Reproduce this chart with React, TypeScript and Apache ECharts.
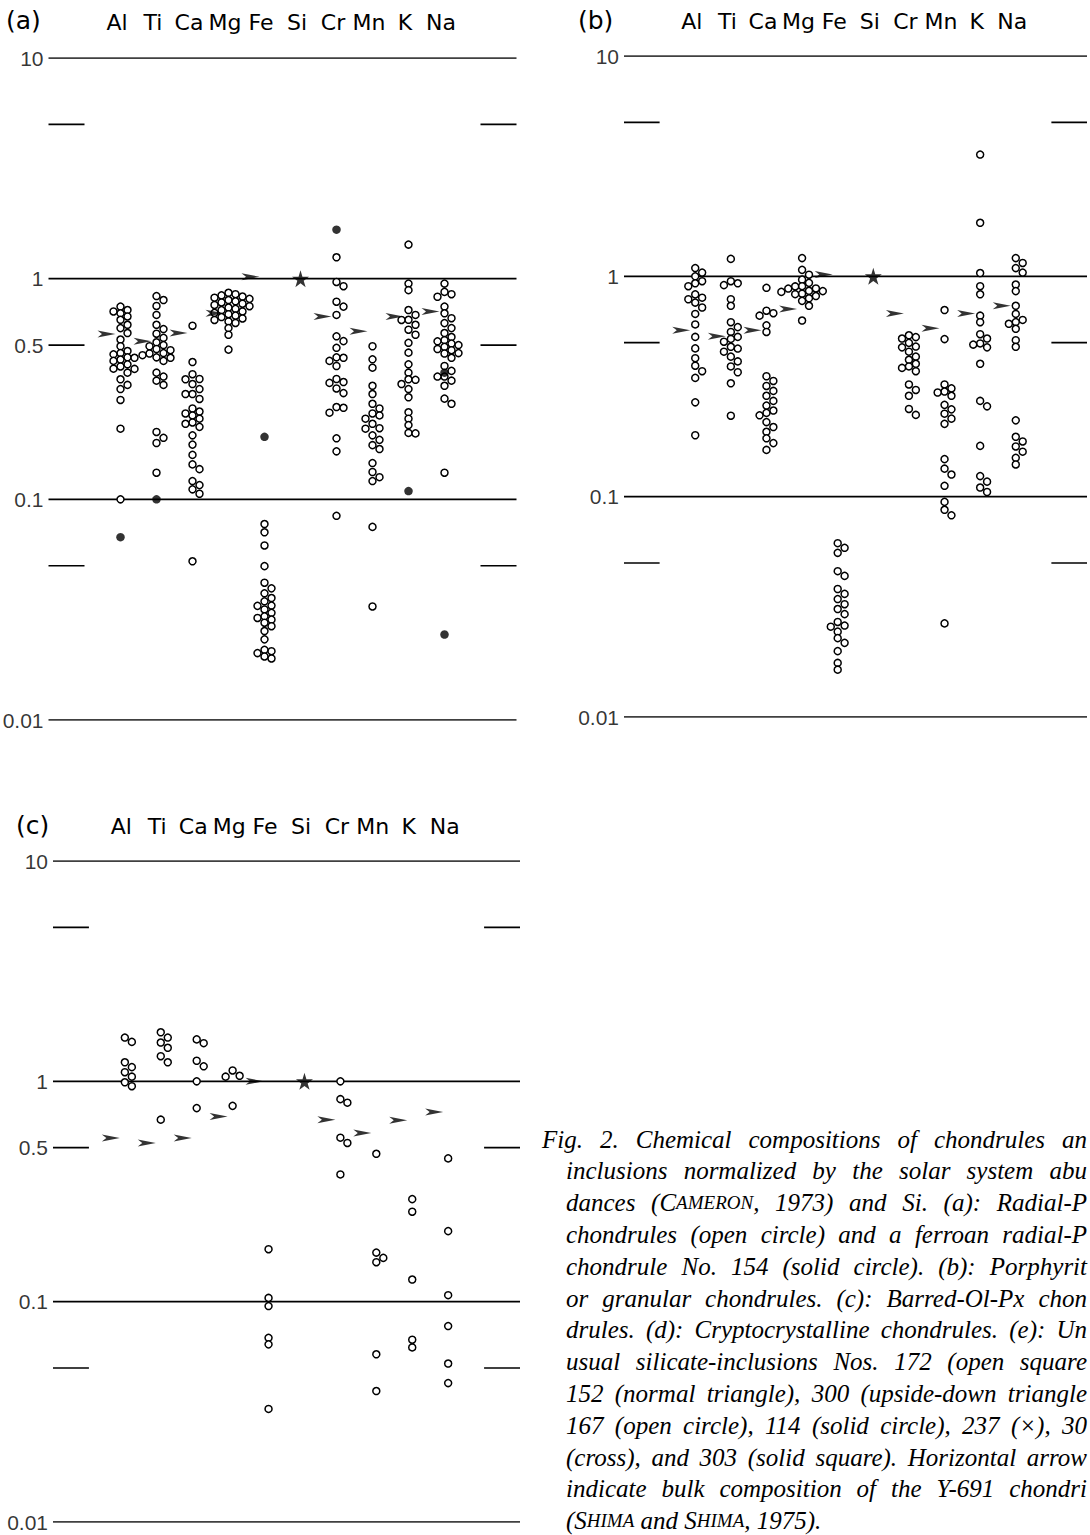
import React, { useEffect, useRef } from 'react';
import * as echarts from 'echarts';

// ---------- data ----------
const ELEMENTS = ['Al', 'Ti', 'Ca', 'Mg', 'Fe', 'Si', 'Cr', 'Mn', 'K', 'Na'];
const PANEL_LABELS = ['(a)', '(b)', '(c)'];
const FULL_LINES = [10, 1, 0.1, 0.01];
const STUB_LINES = [5, 0.5, 0.05];
const Y_TICKS_AC = [10, 1, 0.5, 0.1, 0.01];
const Y_TICKS_B = [10, 1, 0.1, 0.01];
const SI_REFERENCE = 1; // star: normalized to Si

// Panel (a): radial-Px chondrules (open) and ferroan chondrule No. 154 (solid)
const A_OPEN: number[][] = [
  [0.747, 0.721, 0.71, 0.697, 0.674, 0.651, 0.618, 0.597, 0.567, 0.53, 0.494, 0.47, 0.46, 0.454, 0.44, 0.438, 0.43, 0.424, 0.409, 0.4, 0.391, 0.39, 0.375, 0.35, 0.33, 0.316, 0.282, 0.209, 0.1],
  [0.834, 0.8, 0.752, 0.685, 0.618, 0.591, 0.563, 0.539, 0.515, 0.5, 0.494, 0.48, 0.474, 0.46, 0.458, 0.45, 0.44, 0.438, 0.424, 0.375, 0.36, 0.345, 0.33, 0.202, 0.19, 0.18, 0.132],
  [0.612, 0.419, 0.369, 0.351, 0.35, 0.333, 0.316, 0.3, 0.3, 0.285, 0.258, 0.25, 0.245, 0.24, 0.232, 0.223, 0.22, 0.213, 0.195, 0.177, 0.159, 0.144, 0.137, 0.121, 0.116, 0.111, 0.106, 0.0524],
  [0.863, 0.85, 0.84, 0.83, 0.82, 0.81, 0.8, 0.79, 0.78, 0.77, 0.76, 0.75, 0.74, 0.73, 0.72, 0.71, 0.7, 0.69, 0.68, 0.67, 0.66, 0.65, 0.64, 0.63, 0.597, 0.557, 0.477],
  [0.0773, 0.0709, 0.0618, 0.0498, 0.0419, 0.0395, 0.0375, 0.0357, 0.0345, 0.033, 0.0329, 0.0317, 0.0306, 0.0295, 0.029, 0.0285, 0.0276, 0.0266, 0.0253, 0.0232, 0.0208, 0.0205, 0.0201, 0.0194, 0.019],
  [],
  [1.25, 0.966, 0.924, 0.786, 0.747, 0.685, 0.548, 0.521, 0.486, 0.44, 0.438, 0.424, 0.402, 0.351, 0.34, 0.337, 0.318, 0.303, 0.262, 0.26, 0.247, 0.189, 0.165, 0.0842],
  [0.494, 0.431, 0.395, 0.327, 0.3, 0.271, 0.258, 0.245, 0.24, 0.232, 0.22, 0.21, 0.209, 0.195, 0.186, 0.176, 0.169, 0.146, 0.133, 0.126, 0.121, 0.075, 0.0327],
  [1.427, 0.95, 0.887, 0.721, 0.685, 0.651, 0.65, 0.618, 0.587, 0.557, 0.512, 0.462, 0.409, 0.375, 0.35, 0.348, 0.333, 0.316, 0.29, 0.248, 0.232, 0.217, 0.2, 0.199],
  [0.95, 0.871, 0.85, 0.828, 0.747, 0.697, 0.662, 0.629, 0.597, 0.567, 0.544, 0.526, 0.52, 0.508, 0.5, 0.491, 0.48, 0.474, 0.46, 0.458, 0.438, 0.402, 0.382, 0.36, 0.36, 0.345, 0.327, 0.286, 0.271, 0.132],
];
const A_SOLID: number[][] = [[0.0674], [0.1], [], [], [0.192], [], [1.667], [], [0.109], [0.375, 0.0244]];
const A_ARROWS: (number | null)[] = [0.561, 0.52, 0.567, 0.697, 1.02, null, 0.673, 0.577, 0.673, 0.709];

// Panel (b): porphyritic or granular chondrules
const B_OPEN: number[][] = [
  [1.09, 1.04, 1.0, 0.95, 0.93, 0.902, 0.828, 0.8, 0.787, 0.76, 0.722, 0.675, 0.605, 0.531, 0.471, 0.425, 0.393, 0.371, 0.346, 0.268, 0.19],
  [1.2, 0.95, 0.93, 0.912, 0.787, 0.735, 0.619, 0.588, 0.559, 0.531, 0.52, 0.505, 0.479, 0.47, 0.455, 0.432, 0.411, 0.39, 0.367, 0.327, 0.233],
  [0.887, 0.698, 0.68, 0.663, 0.599, 0.559, 0.352, 0.335, 0.318, 0.302, 0.287, 0.272, 0.259, 0.246, 0.24, 0.234, 0.218, 0.207, 0.197, 0.184, 0.175, 0.163],
  [1.21, 1.07, 1.017, 0.966, 0.934, 0.902, 0.9, 0.881, 0.88, 0.86, 0.857, 0.85, 0.834, 0.83, 0.814, 0.795, 0.774, 0.735, 0.63],
  [0.0615, 0.0586, 0.0556, 0.0459, 0.0437, 0.0381, 0.0362, 0.0343, 0.0325, 0.0309, 0.0293, 0.027, 0.026, 0.0257, 0.0244, 0.0228, 0.0217, 0.0199, 0.0176, 0.0164],
  [],
  [0.54, 0.53, 0.522, 0.499, 0.48, 0.476, 0.455, 0.432, 0.418, 0.401, 0.39, 0.384, 0.371, 0.323, 0.305, 0.287, 0.25, 0.235],
  [0.703, 0.519, 0.323, 0.31, 0.3, 0.297, 0.287, 0.261, 0.249, 0.238, 0.226, 0.214, 0.148, 0.134, 0.126, 0.112, 0.0947, 0.0872, 0.0823, 0.0266],
  [3.57, 1.75, 1.035, 0.902, 0.829, 0.663, 0.619, 0.546, 0.522, 0.496, 0.49, 0.476, 0.401, 0.272, 0.257, 0.17, 0.124, 0.117, 0.11, 0.105],
  [1.21, 1.15, 1.09, 1.04, 0.918, 0.857, 0.735, 0.675, 0.634, 0.62, 0.609, 0.578, 0.513, 0.479, 0.222, 0.187, 0.178, 0.169, 0.16, 0.15, 0.14],
];
const B_SOLID: number[][] = [[], [], [], [], [], [], [], [], [], []];
const B_ARROWS: (number | null)[] = [0.569, 0.535, 0.569, 0.71, 1.02, null, 0.679, 0.582, 0.679, 0.735];

// Panel (c): barred-Ol-Px chondrules
const C_OPEN: number[][] = [
  [1.58, 1.51, 1.22, 1.16, 1.1, 1.05, 0.99, 0.95],
  [1.67, 1.58, 1.5, 1.42, 1.3, 1.22, 0.67],
  [1.55, 1.49, 1.24, 1.17, 1.0, 0.756],
  [1.12, 1.06, 1.05, 0.774],
  [0.173, 0.104, 0.0955, 0.0685, 0.064, 0.0326],
  [],
  [1.0, 0.83, 0.8, 0.555, 0.525, 0.378],
  [0.469, 0.167, 0.158, 0.151, 0.0577, 0.0393],
  [0.292, 0.256, 0.126, 0.0672, 0.062],
  [0.447, 0.209, 0.107, 0.0775, 0.0524, 0.0427],
];
const C_SOLID: number[][] = [[], [], [], [], [], [], [], [], [], []];
const C_ARROWS: (number | null)[] = [0.553, 0.525, 0.553, 0.693, 1.0, null, 0.67, 0.583, 0.665, 0.725];

const CAPTION_LINES = [
  'Fig. 2.  Chemical compositions of chondrules an',
  'inclusions normalized by the solar system abu',
  'dances (C^AMERON^, 1973) and Si.  (a): Radial-P',
  'chondrules (open circle) and a ferroan radial-P',
  'chondrule No. 154 (solid circle).  (b): Porphyrit',
  'or granular chondrules.  (c): Barred-Ol-Px chon',
  'drules. (d): Cryptocrystalline chondrules. (e): Un',
  'usual silicate-inclusions Nos. 172 (open square',
  '152 (normal triangle), 300 (upside-down triangle',
  '167 (open circle), 114 (solid circle), 237 (×), 30',
  '(cross), and 303 (solid square).  Horizontal arrow',
  'indicate bulk composition of the Y-691 chondri',
  '(S^HIMA^ and S^HIMA^, 1975).',
];

// ---------- layout / style ----------
const PANELS = [
  { open: A_OPEN, solid: A_SOLID, arrows: A_ARROWS, yTicks: Y_TICKS_AC, left: 48.5, top: 58, width: 468, height: 662, xMax: 11, tagX: 6, tagY: 20, labelMargin: 25 },
  { open: B_OPEN, solid: B_SOLID, arrows: B_ARROWS, yTicks: Y_TICKS_B, left: 624, top: 56, width: 469, height: 661, xMax: 11, tagX: 578, tagY: 20, labelMargin: 24 },
  { open: C_OPEN, solid: C_SOLID, arrows: C_ARROWS, yTicks: Y_TICKS_AC, left: 53, top: 861, width: 467, height: 661, xMax: 11, tagX: 16, tagY: 825, labelMargin: 24 },
];
const X_MIN = -2;
const STAR_PATH = 'path://M50,0 L61,35 L98,35 L68,57 L79,91 L50,70 L21,91 L32,57 L2,35 L39,35 Z';
const ARROW_PATH = 'path://M0,0 L20,4 L0,8 L5,4 Z';
const CAP_FAMILY = '"Liberation Serif", "Times New Roman", serif';
const CAP_SIZE = 25;
const CAP_SC = 19;
const CAP_RIGHT = 1087;

function swarm(values: number[], idx: number, pxX: number, pxDec: number): number[][] {
  const sorted = [...values].sort((a, b) => b - a);
  const placed: { x: number; y: number }[] = [];
  const out: number[][] = [];
  const step = 7;
  const minD = 6.3;
  const ks = [0, 1, -1, 2, -2, 3, -3, 4, -4, 5, -5];
  for (const v of sorted) {
    const py = -Math.log10(v) * pxDec;
    let chosen = ks[ks.length - 1] * step;
    for (const k of ks) {
      const px = k * step;
      if (placed.every((p) => Math.hypot(p.x - px, p.y - py) >= minD)) {
        chosen = px;
        break;
      }
    }
    placed.push({ x: chosen, y: py });
    out.push([idx + chosen / pxX, v]);
  }
  return out;
}

function buildCaption(): any[] {
  const els: any[] = [];
  const canvas = document.createElement('canvas');
  const ctx = canvas.getContext('2d')!;
  const measure = (t: string, size: number) => {
    ctx.font = `italic ${size}px ${CAP_FAMILY}`;
    return ctx.measureText(t).width;
  };
  const spaceW = measure(' ', CAP_SIZE);
  CAPTION_LINES.forEach((line, li) => {
    const startX = li === 0 ? 542 : 566;
    const y = 1139 + li * 31.8;
    const words = line.split(/\s+/).filter(Boolean);
    const parts = words.map((w) =>
      w.split('^').map((t, i) => ({ t, sc: i % 2 === 1 })).filter((p) => p.t.length > 0)
    );
    const widths = parts.map((ps) => ps.reduce((s, p) => s + measure(p.t, p.sc ? CAP_SC : CAP_SIZE), 0));
    const total = widths.reduce((a, b) => a + b, 0);
    let gap = spaceW;
    if (li < CAPTION_LINES.length - 1 && words.length > 1) {
      gap = Math.max(spaceW * 0.6, (CAP_RIGHT - startX - total) / (words.length - 1));
    }
    let x = startX;
    parts.forEach((ps, wi) => {
      const hasSc = ps.some((p) => p.sc);
      const style: any = {
        fill: '#000',
        fontSize: CAP_SIZE,
        fontStyle: 'italic',
        fontFamily: CAP_FAMILY,
        verticalAlign: 'middle',
        align: 'left',
      };
      if (hasSc) {
        style.text = ps.map((p) => `{${p.sc ? 's' : 'n'}|${p.t}}`).join('');
        style.rich = {
          n: { fontSize: CAP_SIZE, fontStyle: 'italic', fontFamily: CAP_FAMILY, fill: '#000' },
          s: { fontSize: CAP_SC, fontStyle: 'italic', fontFamily: CAP_FAMILY, fill: '#000' },
        };
      } else {
        style.text = ps.map((p) => p.t).join('');
      }
      els.push({ type: 'text', x, y, silent: true, style });
      x += widths[wi] + gap;
    });
  });
  return els;
}

function buildOption(): any {
  const grid: any[] = [];
  const xAxis: any[] = [];
  const yAxis: any[] = [];
  const series: any[] = [];
  const graphic: any[] = [];

  PANELS.forEach((p, gi) => {
    grid.push({ left: p.left, top: p.top, width: p.width, height: p.height, containLabel: false });
    xAxis.push({
      gridIndex: gi,
      type: 'value',
      min: X_MIN,
      max: p.xMax,
      interval: 1,
      position: 'top',
      axisLine: { show: false },
      axisTick: { show: false },
      splitLine: { show: false },
      axisLabel: {
        show: true,
        margin: p.labelMargin,
        fontSize: 22,
        fontFamily: '"DejaVu Sans", sans-serif',
        color: '#000',
        padding: [0, 7, 0, 0],
        formatter: (v: number) => (Number.isInteger(v) && v >= 0 && v < ELEMENTS.length ? ELEMENTS[v] : ''),
      },
    });
    yAxis.push({
      gridIndex: gi,
      type: 'log',
      logBase: 10,
      min: 0.01,
      max: 10,
      axisLine: { show: false },
      axisTick: { show: false },
      axisLabel: { show: false },
      splitLine: { show: false },
    });

    const axes = { xAxisIndex: gi, yAxisIndex: gi };
    const lineStyle = { color: '#000', width: 1.7, type: 'solid' };
    const segments: number[][][] = [];
    FULL_LINES.forEach((v) => segments.push([[X_MIN, v], [p.xMax, v]]));
    STUB_LINES.forEach((v) => {
      segments.push([[X_MIN, v], [X_MIN + 1, v]]);
      segments.push([[10, v], [p.xMax, v]]);
    });
    segments.forEach((seg) =>
      series.push({ type: 'line', ...axes, data: seg, symbol: 'none', lineStyle, silent: true, z: 1 })
    );

    // y tick labels
    series.push({
      type: 'scatter',
      ...axes,
      data: p.yTicks.map((v) => [X_MIN, v]),
      symbolSize: 0,
      silent: true,
      z: 2,
      label: {
        show: true,
        position: 'left',
        distance: 5,
        fontSize: 21,
        fontFamily: '"Liberation Sans", Arial, sans-serif',
        color: '#000',
        formatter: (d: any) => String(d.value[1]),
      },
    });

    const pxX = p.width / (p.xMax - X_MIN);
    const pxDec = p.height / 3;
    const openData: number[][] = [];
    p.open.forEach((vals, i) => openData.push(...swarm(vals, i, pxX, pxDec)));
    series.push({
      type: 'scatter',
      ...axes,
      data: openData,
      symbol: 'circle',
      symbolSize: 7,
      itemStyle: { color: '#fff', borderColor: '#000', borderWidth: 1.5, opacity: 1 },
      silent: true,
      z: 3,
    });
    const solidData: number[][] = [];
    p.solid.forEach((vals, i) => vals.forEach((v) => solidData.push([i, v])));
    if (solidData.length) {
      series.push({
        type: 'scatter',
        ...axes,
        data: solidData,
        symbol: 'circle',
        symbolSize: 8.5,
        itemStyle: { color: '#000' },
        silent: true,
        z: 4,
      });
    }
    const arrowData: number[][] = [];
    p.arrows.forEach((v, i) => {
      if (v != null) arrowData.push([i, v]);
    });
    series.push({
      type: 'scatter',
      ...axes,
      data: arrowData,
      symbol: ARROW_PATH,
      symbolSize: [18, 7],
      symbolOffset: [-14, 0],
      itemStyle: { color: '#000' },
      silent: true,
      z: 4,
    });
    series.push({
      type: 'scatter',
      ...axes,
      data: [[ELEMENTS.indexOf('Si'), SI_REFERENCE]],
      symbol: STAR_PATH,
      symbolSize: 17,
      itemStyle: { color: '#000' },
      silent: true,
      z: 5,
    });

    graphic.push({
      type: 'text',
      x: p.tagX,
      y: p.tagY,
      silent: true,
      style: {
        text: PANEL_LABELS[gi],
        fontSize: 25,
        fontFamily: '"DejaVu Sans", sans-serif',
        fill: '#000',
        verticalAlign: 'middle',
        align: 'left',
      },
    });
  });

  graphic.push(...buildCaption());

  return {
    animation: false,
    backgroundColor: '#fff',
    grid,
    xAxis,
    yAxis,
    series,
    graphic,
  };
}

export default function App() {
  const ref = useRef<HTMLDivElement>(null);
  useEffect(() => {
    if (!ref.current) return;
    const chart = echarts.init(ref.current, null, { renderer: 'svg' });
    chart.setOption(buildOption());
    return () => chart.dispose();
  }, []);
  return (
    <div
      ref={ref}
      style={{ position: 'absolute', left: 0, top: 0, width: 1090, height: 1535, background: '#fff' }}
    />
  );
}
